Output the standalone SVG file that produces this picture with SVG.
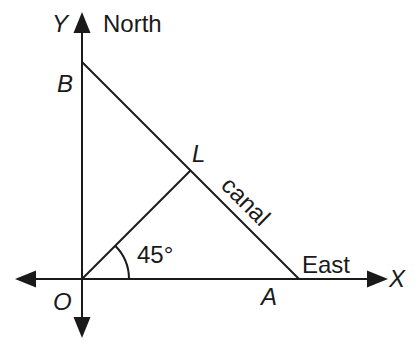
<svg xmlns="http://www.w3.org/2000/svg" width="415" height="343" viewBox="0 0 415 343">
<style>
.ln{stroke:#1a1a1a;stroke-width:2;fill:none}
.t{font-family:"Liberation Sans",Arial,sans-serif;font-size:24px;fill:#1a1a1a}
.i{font-style:italic}
.ah{fill:#1a1a1a}
</style>
<rect width="415" height="343" fill="#fff"/>
<g id="connectors">
<line class="ln" x1="82" y1="30" x2="82" y2="320"/>
<line class="ln" x1="32" y1="279" x2="370" y2="279"/>
<polygon class="ah" points="82,12 73.5,33 90.5,33"/>
<polygon class="ah" points="82,338 73.5,317 90.5,317"/>
<polygon class="ah" points="15,279 36,270.5 36,287.5"/>
<polygon class="ah" points="388,279 367,270.5 367,287.5"/>
<line class="ln" x1="82" y1="62" x2="299" y2="279"/>
<line class="ln" x1="82" y1="279" x2="190.5" y2="170.5"/>
<path class="ln" d="M129,279 A47,47 0 0 0 115.2,245.8"/>
</g>
<g id="node-Y"><text class="t i" x="52" y="32">Y</text></g>
<g id="node-North"><text class="t" x="103" y="32">North</text></g>
<g id="node-B"><text class="t i" x="57" y="92">B</text></g>
<g id="node-L"><text class="t i" x="192" y="162">L</text></g>
<g id="node-canal"><text class="t" text-anchor="middle" transform="translate(240,207) rotate(45)">canal</text></g>
<g id="node-45"><text class="t" x="137" y="263">45°</text></g>
<g id="node-East"><text class="t" x="302" y="273">East</text></g>
<g id="node-X"><text class="t i" x="389" y="287">X</text></g>
<g id="node-O"><text class="t i" x="53" y="310">O</text></g>
<g id="node-A"><text class="t i" x="261" y="305">A</text></g>
</svg>
